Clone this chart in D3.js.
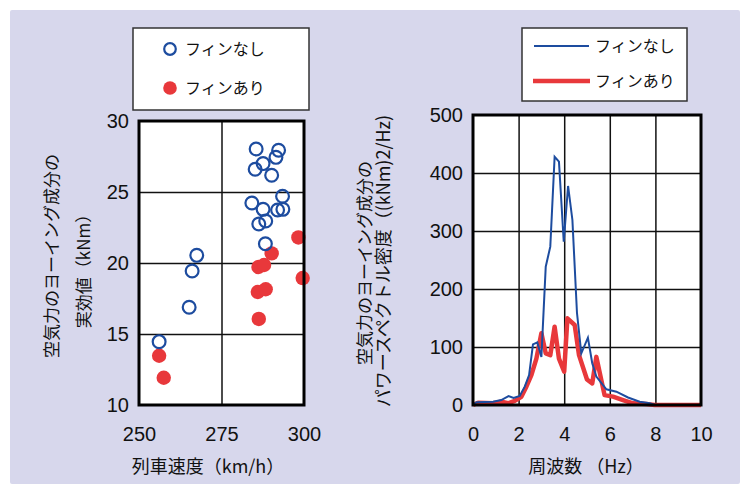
<!DOCTYPE html>
<html>
<head>
<meta charset="utf-8">
<script src="https://cdn.jsdelivr.net/npm/d3@7"></script>
<style>
  body { margin: 0; background: #ffffff; }
  text { font-family: "Liberation Sans", Arial, sans-serif; fill: #111; }
  .jp { font-family: "Noto Sans CJK JP", sans-serif; }
  .grid line { stroke: #111; stroke-width: 1.5; }
  .grid .domain { display: none; }
  .ticks .domain { display: none; }
  .ticks text { font-size: 20px; fill: #111; }
</style>
</head>
<body>
<svg id="chart"></svg>
<script>
// speed (km/h) vs yaw RMS (kNm)
const finNoneSpeed = [256.1, 265.2, 266.1, 267.5, 285.5, 285.2, 287.6, 290.2, 291.5, 292.3, 284.2, 287.6, 293.5, 292.0, 293.6, 286.3, 288.4, 288.3];
const finNoneRms   = [14.46, 16.88, 19.44, 20.54, 28.03, 26.6, 27.0, 26.18, 27.44, 27.94, 24.23, 23.78, 24.7, 23.73, 23.78, 22.75, 22.96, 21.36];
const finOnSpeed   = [256.1, 257.5, 286.3, 286.0, 288.4, 286.2, 287.9, 290.2, 298.3, 299.6];
const finOnRms     = [13.47, 11.92, 16.06, 17.96, 18.15, 19.72, 19.86, 20.68, 21.8, 18.94];

// power spectral density
const psdNoneHz  = [0, 0.15, 0.88, 1.24, 1.56, 1.78, 2.05, 2.27, 2.46, 2.63, 2.82, 3.0, 3.19, 3.39, 3.58, 3.77, 3.98, 4.17, 4.36, 4.56, 4.75, 5.04, 5.23, 5.41, 5.85, 6.29, 6.8, 7.31, 7.75, 7.97, 10];
const psdNoneVal = [0, 4.6, 5.7, 8.6, 15.5, 12, 15.5, 31.6, 51.7, 104.6, 108, 83, 238.5, 273, 428, 419.5, 281.6, 377.6, 319, 159, 89, 116, 72, 49, 27, 23, 13, 5.7, 2.9, 0, 0];
const psdOnHz    = [0, 0.22, 0.88, 1.24, 1.54, 1.83, 2.12, 2.34, 2.56, 2.78, 3.0, 3.19, 3.39, 3.58, 3.77, 4.0, 4.14, 4.46, 4.65, 5.0, 5.23, 5.41, 5.77, 6.14, 6.58, 7.02, 7.6, 7.97, 10];
const psdOnVal   = [0, 4, 3, 5.7, 3, 7, 14, 31.6, 51.7, 80, 123.6, 89, 86, 135, 80, 57.5, 149.4, 138, 86, 44, 37.4, 83, 17, 14.4, 8.6, 2.9, 1.7, 0, 0];

const speedTicks = [250, 275, 300];
const rmsTicks = [10, 15, 20, 25, 30];
const hzTicks = [0, 2, 4, 6, 8, 10];
const psdTicks = [0, 100, 200, 300, 400, 500];

const blue = "#1d4c9f", red = "#e8383b";

const svg = d3.select("#chart").attr("width", 750).attr("height", 494);

svg.append("rect")
  .attr("x", 10).attr("y", 10)
  .attr("width", 730).attr("height", 474)
  .attr("rx", 2)
  .attr("fill", "#d7d7ec");

function panel(cfg) {
  const x = d3.scaleLinear().domain(cfg.xDomain).range([cfg.left, cfg.right]);
  const y = d3.scaleLinear().domain(cfg.yDomain).range([cfg.bottom, cfg.top]);
  const h = cfg.bottom - cfg.top, w = cfg.right - cfg.left;

  svg.append("rect")
    .attr("x", cfg.left).attr("y", cfg.top)
    .attr("width", w).attr("height", h)
    .attr("fill", "#fff");

  svg.append("g").attr("class", "grid")
    .attr("transform", `translate(0,${cfg.bottom})`)
    .call(d3.axisBottom(x).tickValues(cfg.xTicks.slice(1, -1)).tickSize(-h).tickFormat(""));
  svg.append("g").attr("class", "grid")
    .attr("transform", `translate(${cfg.left},0)`)
    .call(d3.axisLeft(y).tickValues(cfg.yTicks.slice(1, -1)).tickSize(-w).tickFormat(""));

  svg.append("g").attr("class", "ticks")
    .attr("transform", `translate(0,${cfg.bottom})`)
    .call(d3.axisBottom(x).tickValues(cfg.xTicks).tickSize(0).tickPadding(22));
  svg.append("g").attr("class", "ticks")
    .attr("transform", `translate(${cfg.left},0)`)
    .call(d3.axisLeft(y).tickValues(cfg.yTicks).tickSize(0).tickPadding(10));

  return { x, y, frame: () => svg.append("rect")
    .attr("x", cfg.left).attr("y", cfg.top)
    .attr("width", w).attr("height", h)
    .attr("fill", "none").attr("stroke", "#000").attr("stroke-width", 3) };
}

// left panel: scatter
const L = panel({ xDomain: [250, 300], yDomain: [10, 30], left: 139, right: 304, top: 121, bottom: 405,
  xTicks: speedTicks, yTicks: rmsTicks });

svg.append("g").selectAll("circle")
  .data(d3.zip(finOnSpeed, finOnRms))
  .join("circle")
  .attr("cx", d => L.x(d[0])).attr("cy", d => L.y(d[1]))
  .attr("r", 7.2).attr("fill", red);

svg.append("g").selectAll("circle")
  .data(d3.zip(finNoneSpeed, finNoneRms))
  .join("circle")
  .attr("cx", d => L.x(d[0])).attr("cy", d => L.y(d[1]))
  .attr("r", 6.4).attr("fill", "none").attr("stroke", blue).attr("stroke-width", 2.2);

L.frame();

// right panel: spectrum
const R = panel({ xDomain: [0, 10], yDomain: [0, 500], left: 473, right: 701, top: 115, bottom: 405,
  xTicks: hzTicks, yTicks: psdTicks });

const line = d3.line().x(d => R.x(d[0])).y(d => R.y(d[1]));

svg.append("path")
  .datum(d3.zip(psdOnHz, psdOnVal))
  .attr("d", line)
  .attr("fill", "none").attr("stroke", red).attr("stroke-width", 4.5).attr("stroke-linejoin", "round");

svg.append("path")
  .datum(d3.zip(psdNoneHz, psdNoneVal))
  .attr("d", line)
  .attr("fill", "none").attr("stroke", blue).attr("stroke-width", 2);

R.frame();

// axis titles
svg.append("text").attr("class", "jp")
  .attr("x", 208).attr("y", 473).attr("text-anchor", "middle")
  .style("font-size", "18px").text("列車速度（km/h）");
svg.append("text").attr("class", "jp")
  .attr("x", 586).attr("y", 473).attr("text-anchor", "middle")
  .style("font-size", "18px").text("周波数 （Hz）");

function vlabel(x, y, txt, size) {
  svg.append("text").attr("class", "jp")
    .attr("transform", `translate(${x},${y}) rotate(-90)`)
    .attr("text-anchor", "middle").attr("dy", "0.35em")
    .style("font-size", size + "px").text(txt);
}
vlabel(52, 256, "空気力のヨーイング成分の", 17);
vlabel(84, 267, "実効値（kNm）", 17);
vlabel(365, 263, "空気力のヨーイング成分の", 17);
vlabel(384, 261, "パワースペクトル密度（(kNm)2/Hz)", 18);

// legends
function legendBox(x, y, w, h) {
  svg.append("rect").attr("x", x).attr("y", y).attr("width", w).attr("height", h)
    .attr("fill", "#fff").attr("stroke", "#333").attr("stroke-width", 1.5);
}
legendBox(133, 28, 176, 82);
svg.append("circle").attr("cx", 170).attr("cy", 49).attr("r", 5.8)
  .attr("fill", "none").attr("stroke", blue).attr("stroke-width", 2.2);
svg.append("circle").attr("cx", 170).attr("cy", 88).attr("r", 6.8).attr("fill", red);
svg.append("text").attr("class", "jp").attr("x", 185).attr("y", 49).attr("dy", "0.35em")
  .style("font-size", "16px").text("フィンなし");
svg.append("text").attr("class", "jp").attr("x", 185).attr("y", 88).attr("dy", "0.35em")
  .style("font-size", "16px").text("フィンあり");

legendBox(522, 28, 165, 73);
svg.append("line").attr("x1", 534).attr("x2", 589).attr("y1", 46).attr("y2", 46)
  .attr("stroke", blue).attr("stroke-width", 2);
svg.append("line").attr("x1", 533).attr("x2", 590).attr("y1", 81).attr("y2", 81)
  .attr("stroke", red).attr("stroke-width", 4.5);
svg.append("text").attr("class", "jp").attr("x", 595).attr("y", 46).attr("dy", "0.35em")
  .style("font-size", "16px").text("フィンなし");
svg.append("text").attr("class", "jp").attr("x", 595).attr("y", 81).attr("dy", "0.35em")
  .style("font-size", "16px").text("フィンあり");
</script>
</body>
</html>
